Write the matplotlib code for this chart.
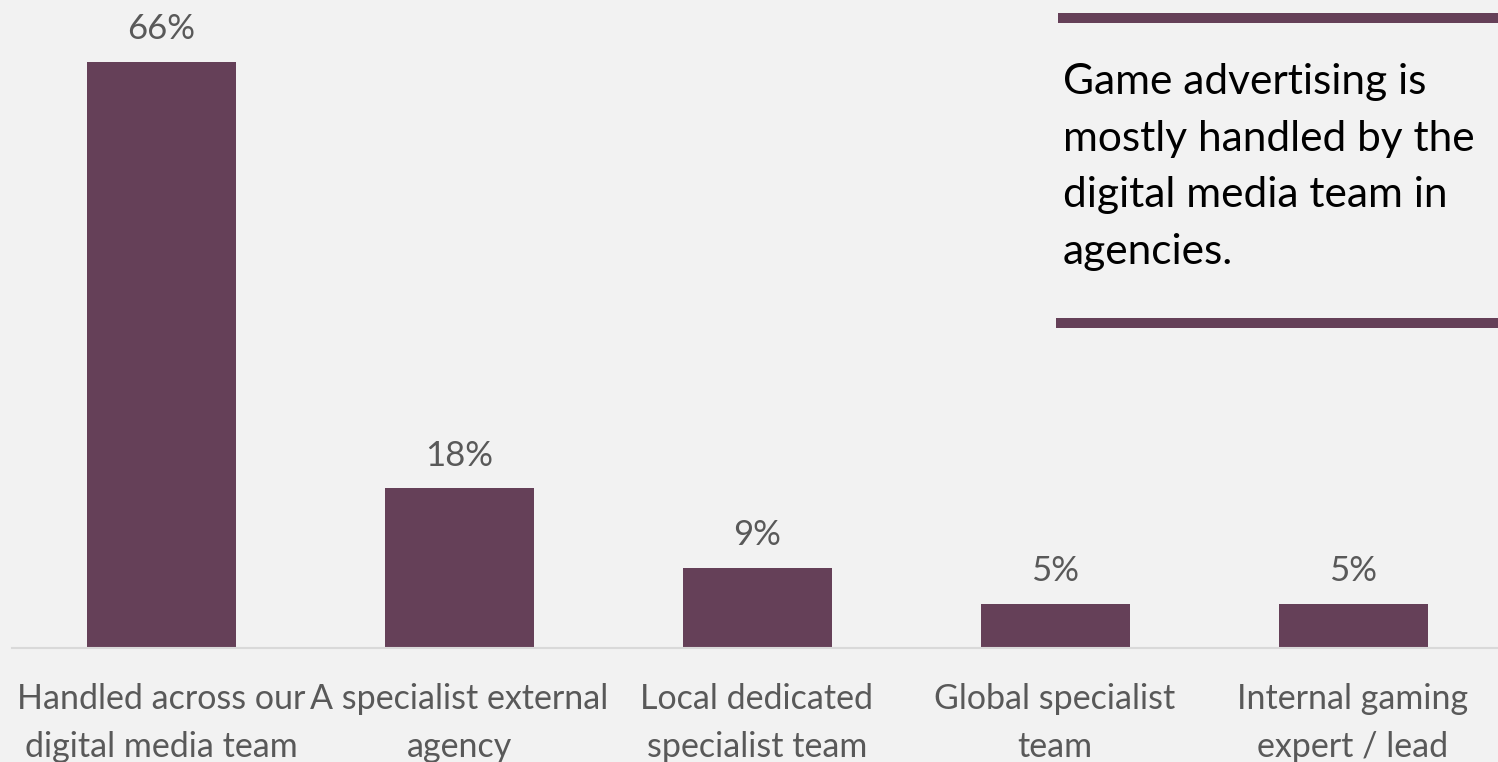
import matplotlib
matplotlib.use("Agg")
import matplotlib.pyplot as plt
from matplotlib.lines import Line2D

plt.rcParams['font.family'] = ['Lato', 'DejaVu Sans']

categories = [
    "Handled across our\ndigital media team",
    "A specialist external\nagency",
    "Local dedicated\nspecialist team",
    "Global specialist\nteam",
    "Internal gaming\nexpert / lead",
]
shares = [66, 18, 9, 5, 5]
value_labels = ["66%", "18%", "9%", "5%", "5%"]
callout = "Game advertising is\nmostly handled by the\ndigital media team in\nagencies."

BG = "#f2f2f2"
BAR = "#654058"
GREY = "#595959"

W, H = 1498, 762
fig = plt.figure(figsize=(W / 100, H / 100), dpi=100, facecolor=BG)
ax = fig.add_axes([12 / W, 1 - 648 / H, 1490 / W, 648 / H])
ax.set_facecolor(BG)

x = list(range(len(categories)))
ax.bar(x, shares, width=0.5, color=BAR, zorder=2)
for xi, v, lab in zip(x, shares, value_labels):
    ax.annotate(lab, (xi, v), xytext=(0, 12), textcoords="offset points",
                ha="center", va="bottom", fontsize=25, color=GREY)

ax.set_xlim(-0.5, 4.5)
ax.set_ylim(0, 73)
ax.set_xticks(x)
ax.set_xticklabels(categories, fontsize=24.5, color=GREY, linespacing=1.6)
ax.tick_params(axis="x", length=0, pad=25.5)
ax.set_yticks([])
for s in ("top", "right", "left"):
    ax.spines[s].set_visible(False)
ax.spines["bottom"].set_color("#d9d9d9")
ax.spines["bottom"].set_linewidth(1.5)

# callout box: two rules with text between them
fig.add_artist(Line2D([1058 / W, 1], [1 - 18 / H, 1 - 18 / H],
                      color=BAR, linewidth=7.2, solid_capstyle="butt"))
fig.add_artist(Line2D([1056 / W, 1], [1 - 323 / H, 1 - 323 / H],
                      color=BAR, linewidth=7.2, solid_capstyle="butt"))
fig.text(1063 / W, 1 - 63 / H, callout, ha="left", va="top",
         fontsize=30.5, color="black", linespacing=1.6)

fig.savefig("out.png", dpi=100, facecolor=BG)
